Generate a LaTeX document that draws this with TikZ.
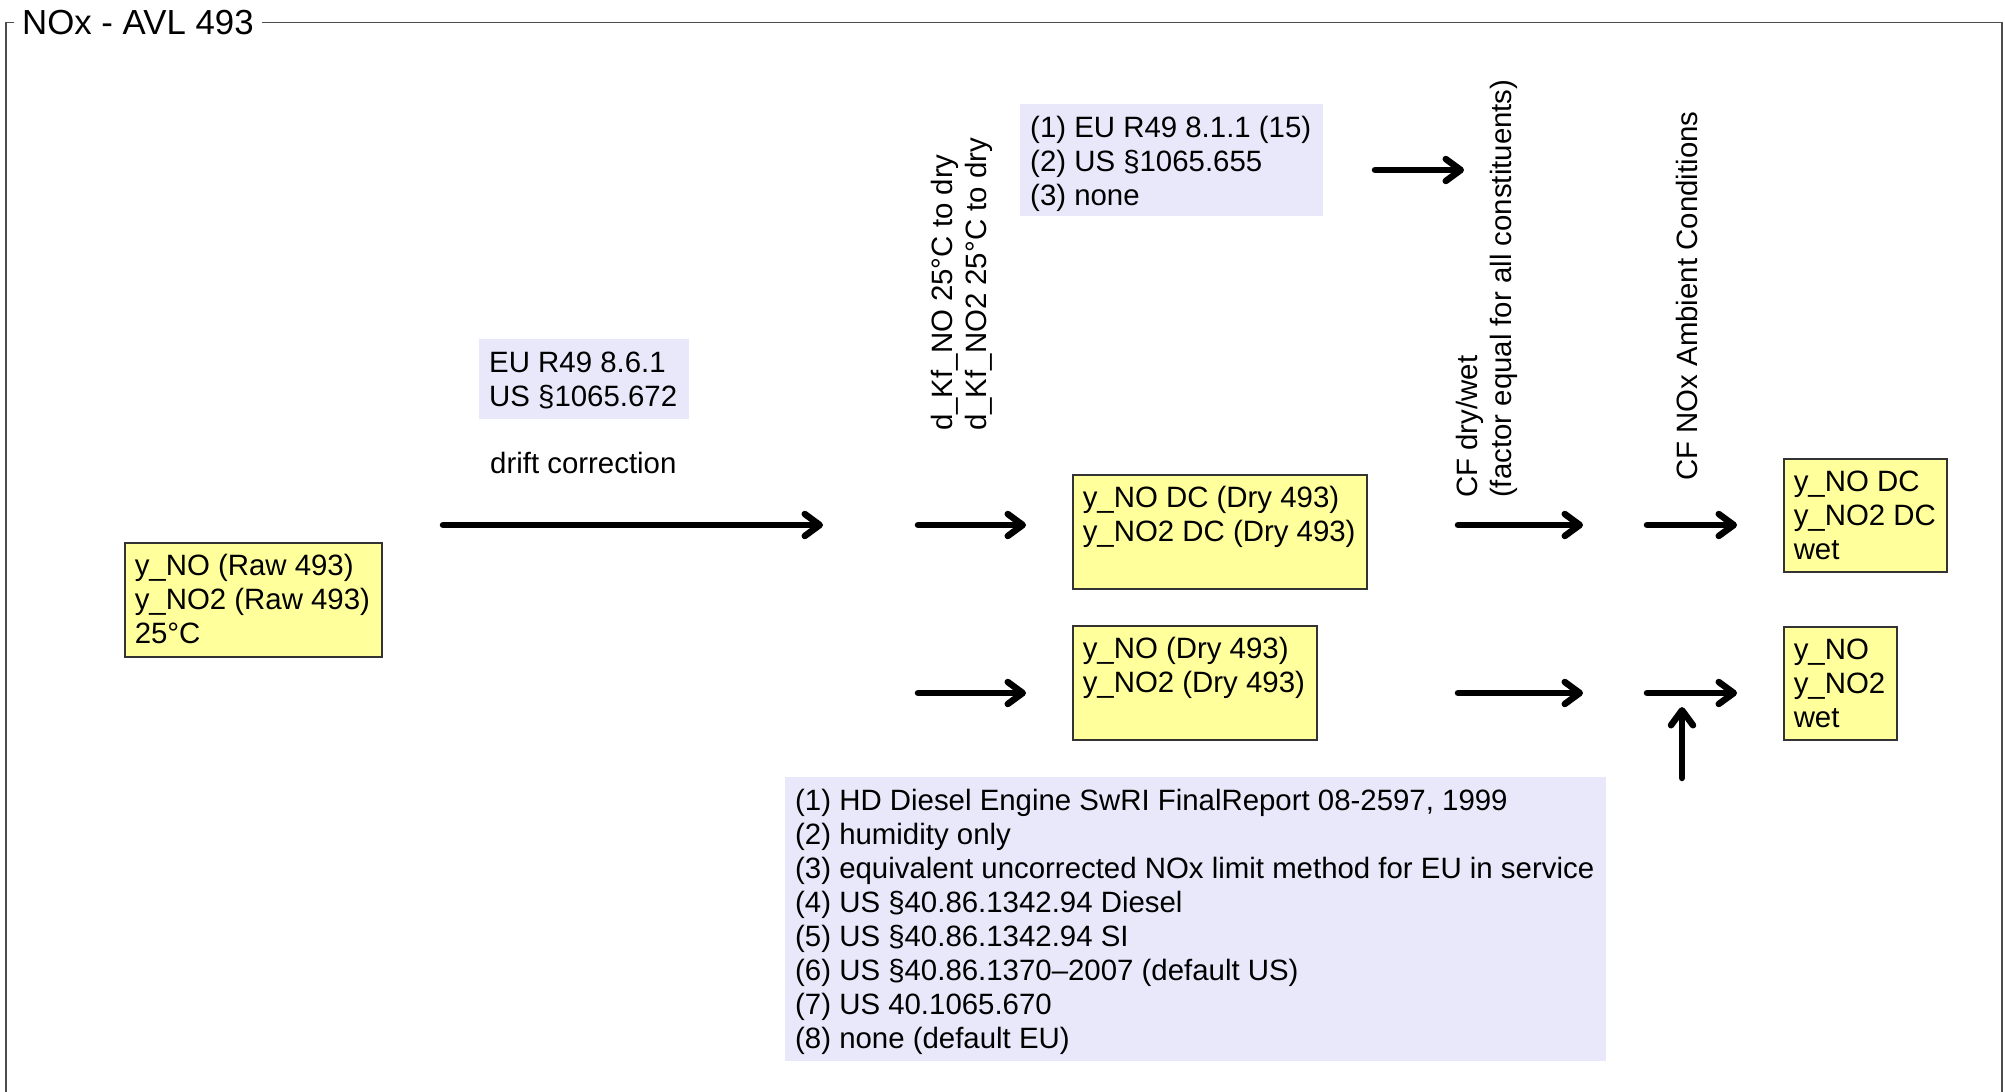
\documentclass[tikz,border=0pt]{standalone}
\usepackage{fontspec}
\setmainfont{Liberation Sans}
\usetikzlibrary{arrows.meta}
\definecolor{boxyellow}{HTML}{FFFF9C}
\definecolor{boxlav}{HTML}{E8E8FA}
\newcommand\myBody{\fontsize{29.4pt}{34pt}\selectfont}
\newcommand\myTitle{\fontsize{34.8pt}{40pt}\selectfont}
\newcommand\boxtxt[2]{\makebox[#1][l]{\begin{tabular}[t]{@{}l@{}}#2\end{tabular}}}
\newcommand\rottxt[1]{\begin{tabular}[b]{@{}l@{}}#1\end{tabular}}
\begin{document}
\begin{tikzpicture}[x=1pt,y=-1pt,
  bx/.style={anchor=north west, inner xsep=10pt, inner ysep=9pt, font=\myBody, text height=23.8pt},
  ybox/.style={bx, fill=boxyellow, draw=black!80, line width=1.5pt},
  lbox/.style={bx, fill=boxlav},
  rottext/.style={rotate=90, anchor=south west, inner sep=0pt, font=\myBody, text depth=0pt},
  plain/.style={anchor=base west, inner sep=0pt, font=\myBody},
  arr/.style={line width=6.5pt, line cap=round, -{Straight Barb[length=15pt,width=22pt,round]}},
  frm/.style={draw=black!70, line width=1.8pt}]
\useasboundingbox (0,0) rectangle (2005,1092);

% frame and title
\node[font=\myTitle, anchor=base west, inner xsep=8.5pt, inner ysep=0pt] (title) at (13.5,34.7) {NOx - AVL 493};
\coordinate (ftl) at (6,22.5);
\coordinate (ftr) at (2002,22.5);
\coordinate (fbl) at (6,1096);
\coordinate (fbr) at (2002,1096);
\draw[frm] (title.west |- ftl) -- (ftl) -- (fbl);
\draw[frm] (title.east |- ftl) -- (ftr) -- (fbr);

% boxes
\node[ybox, text depth=72.2pt] (raw) at (124,542) {\boxtxt{237pt}{y\_NO (Raw 493)\\y\_NO2 (Raw 493)\\25°C}};
\node[lbox, text depth=38.2pt] (eu) at (479,339) {\boxtxt{190pt}{EU R49 8.6.1\\US §1065.672}};
\node[plain] (drift) at (490,473) {drift correction};
\node[lbox, text depth=70.2pt] (dryref) at (1020,104) {\boxtxt{283pt}{(1) EU R49 8.1.1 (15)\\(2) US §1065.655\\(3) none}};
\node[lbox, text depth=242.2pt] (ambref) at (785,777) {\boxtxt{801pt}{(1) HD Diesel Engine SwRI FinalReport 08-2597, 1999\\(2) humidity only\\(3) equivalent uncorrected NOx limit method for EU in service\\(4) US §40.86.1342.94 Diesel\\(5) US §40.86.1342.94 SI\\(6) US §40.86.1370–2007 (default US)\\(7) US 40.1065.670\\(8) none (default EU)}};
\node[ybox, text depth=72.2pt] (dc) at (1072,474) {\boxtxt{274pt}{y\_NO DC (Dry 493)\\y\_NO2 DC (Dry 493)}};
\node[ybox, text depth=72.2pt] (dry) at (1072,625) {\boxtxt{224pt}{y\_NO (Dry 493)\\y\_NO2 (Dry 493)}};
\node[ybox, text depth=71.2pt] (wetdc) at (1783,458) {\boxtxt{143pt}{y\_NO DC\\y\_NO2 DC\\wet}};
\node[ybox, text depth=71.2pt] (wet) at (1783,626) {\boxtxt{93pt}{y\_NO\\y\_NO2\\wet}};

% rotated labels
\node[rottext] (kf) at (987,431) {\rottxt{d\_Kf\_NO 25°C to dry\\d\_Kf\_NO2 25°C to dry}};
\node[rottext] (cfdw) at (1512,498) {\rottxt{CF dry/wet\\(factor equal for all constituents)}};
\node[rottext] (cfamb) at (1698,481) {CF NOx Ambient Conditions};

% arrows
\coordinate (a1s) at (443,525);  \coordinate (a1e) at (823,525);
\coordinate (a2s) at (918,525);  \coordinate (a2e) at (1026,525);
\coordinate (a3s) at (918,693);  \coordinate (a3e) at (1026,693);
\coordinate (a4s) at (1375,170); \coordinate (a4e) at (1464,170);
\coordinate (a5s) at (1458,525); \coordinate (a5e) at (1583,525);
\coordinate (a6s) at (1647,525); \coordinate (a6e) at (1737,525);
\coordinate (a7s) at (1458,693); \coordinate (a7e) at (1583,693);
\coordinate (a8s) at (1647,693); \coordinate (a8e) at (1737,693);
\coordinate (a9s) at (1682,778); \coordinate (a9e) at (1682,707);
\foreach \i in {1,...,9} {\draw[arr] (a\i s) -- (a\i e);}
\end{tikzpicture}
\end{document}
